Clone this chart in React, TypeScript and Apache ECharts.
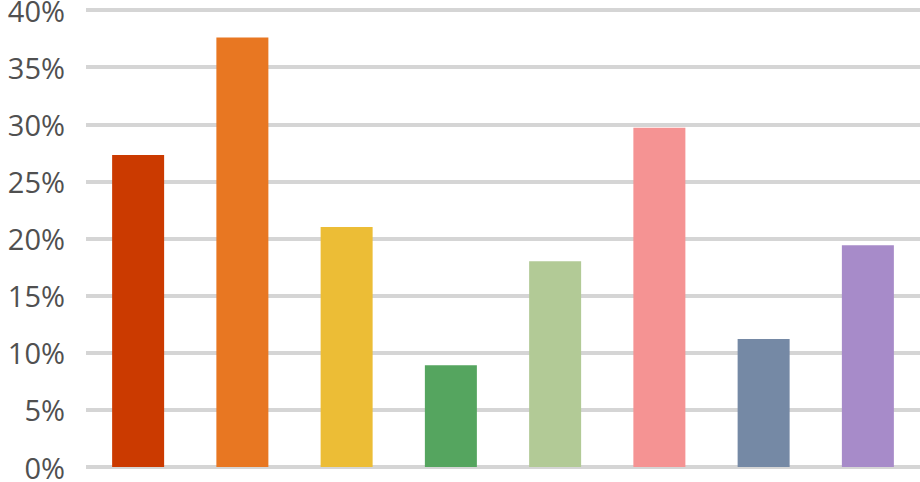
import React, { useEffect, useRef } from "react";
import * as echarts from "echarts";

const categories = ["A", "B", "C", "D", "E", "F", "G", "H"];
const values = [27.3, 37.6, 21.0, 8.9, 18.0, 29.7, 11.2, 19.4];
const colors = ["#CB3A00", "#E87722", "#ECBD36", "#55A55F", "#B2CA96", "#F59393", "#7589A5", "#A78BC9"];
const yTicks = [0, 5, 10, 15, 20, 25, 30, 35, 40];

export default function App() {
  const ref = useRef<HTMLDivElement>(null);
  useEffect(() => {
    if (!ref.current) return;
    const chart = echarts.init(ref.current, null, { renderer: "svg" });
    chart.setOption({
      animation: false,
      grid: { left: 86, right: 0, top: 10, bottom: 15, containLabel: false, outerBoundsMode: "none" },
      xAxis: {
        type: "category",
        data: categories,
        axisLine: { show: false },
        axisTick: { show: false },
        axisLabel: { show: false },
      },
      yAxis: {
        type: "value",
        min: yTicks[0],
        max: yTicks[yTicks.length - 1],
        interval: 5,
        axisLine: { show: false },
        axisTick: { show: false },
        splitLine: { lineStyle: { color: "#d5d5d5", width: 4 } },
        axisLabel: {
          formatter: "{value}%",
          color: "#505050",
          fontSize: 29,
          fontFamily: "Open Sans",
          margin: 21,
        },
      },
      series: [
        {
          type: "bar",
          barWidth: 52,
          data: values.map((v, i) => ({ value: v, itemStyle: { color: colors[i] } })),
        },
      ],
    });
    return () => chart.dispose();
  }, []);
  return (
    <div
      ref={ref}
      style={{ position: "fixed", left: 0, top: 0, width: 920, height: 482, background: "#fff" }}
    />
  );
}
